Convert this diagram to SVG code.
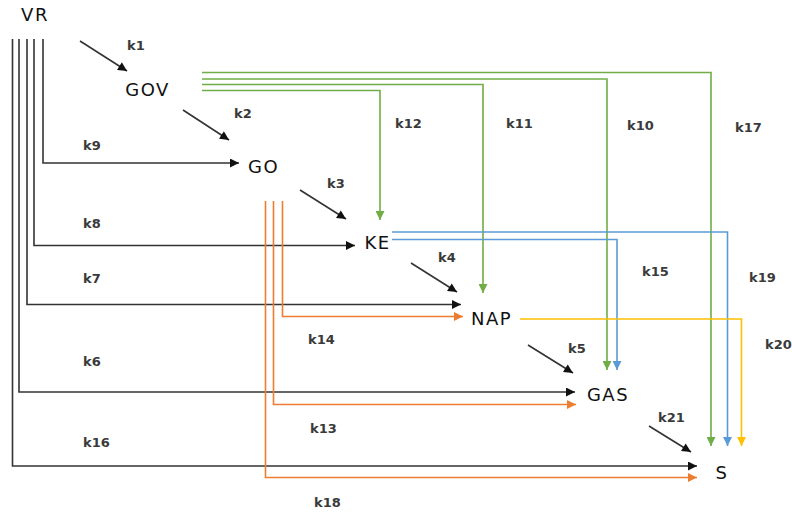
<svg xmlns="http://www.w3.org/2000/svg" width="792" height="514" viewBox="0 0 792 514">
<style>
.node{font-family:"DejaVu Sans",sans-serif;font-size:18px;fill:#111;text-anchor:middle;letter-spacing:1.5px}
.lbl{font-family:"DejaVu Sans",sans-serif;font-size:13px;font-weight:bold;fill:#3a3a3a}
.c{fill:none;stroke-width:1.6}
.k{stroke:#333}
.g{stroke:#70ad47}
.b{stroke:#5b9bd5}
.o{stroke:#ed7d31}
.y{stroke:#ffc000}
</style>
<defs>
<marker id="ak" viewBox="0 0 10 10" refX="10" refY="5" markerWidth="10" markerHeight="9" markerUnits="userSpaceOnUse" orient="auto"><path d="M0,0 L10,5 L0,10 z" fill="#111"/></marker>
<marker id="ag" viewBox="0 0 10 10" refX="10" refY="5" markerWidth="10" markerHeight="9" markerUnits="userSpaceOnUse" orient="auto"><path d="M0,0 L10,5 L0,10 z" fill="#70ad47"/></marker>
<marker id="ab" viewBox="0 0 10 10" refX="10" refY="5" markerWidth="10" markerHeight="9" markerUnits="userSpaceOnUse" orient="auto"><path d="M0,0 L10,5 L0,10 z" fill="#5b9bd5"/></marker>
<marker id="ao" viewBox="0 0 10 10" refX="10" refY="5" markerWidth="10" markerHeight="9" markerUnits="userSpaceOnUse" orient="auto"><path d="M0,0 L10,5 L0,10 z" fill="#ed7d31"/></marker>
<marker id="ay" viewBox="0 0 10 10" refX="10" refY="5" markerWidth="10" markerHeight="9" markerUnits="userSpaceOnUse" orient="auto"><path d="M0,0 L10,5 L0,10 z" fill="#ffc000"/></marker>
</defs>
<g id="connectors">
<path class="c k" d="M43,39 V163 H239" marker-end="url(#ak)"/>
<path class="c k" d="M34,39 V245.5 H355" marker-end="url(#ak)"/>
<path class="c k" d="M27,39 V304.5 H461" marker-end="url(#ak)"/>
<path class="c k" d="M19,39 V392 H575" marker-end="url(#ak)"/>
<path class="c k" d="M12.5,39 V466 H697" marker-end="url(#ak)"/>
<path class="c g" d="M202,72.5 H711 V446" marker-end="url(#ag)"/>
<path class="c g" d="M202,79 H607 V370" marker-end="url(#ag)"/>
<path class="c g" d="M202,84.5 H483 V293" marker-end="url(#ag)"/>
<path class="c g" d="M202,90.5 H380 V220" marker-end="url(#ag)"/>
<path class="c b" d="M392,232 H727.5 V446" marker-end="url(#ab)"/>
<path class="c b" d="M392,239.5 H617 V370" marker-end="url(#ab)"/>
<path class="c y" d="M520,319 H741.5 V446" marker-end="url(#ay)"/>
<path class="c o" d="M282.5,201 V316.5 H463" marker-end="url(#ao)"/>
<path class="c o" d="M273.5,201 V404.5 H576" marker-end="url(#ao)"/>
<path class="c o" d="M265.5,201 V477.5 H697" marker-end="url(#ao)"/>
<path class="c k" d="M80,41 L127,71" marker-end="url(#ak)"/>
<path class="c k" d="M183,110 L229,140" marker-end="url(#ak)"/>
<path class="c k" d="M300,190 L346,219" marker-end="url(#ak)"/>
<path class="c k" d="M411,263 L457,292" marker-end="url(#ak)"/>
<path class="c k" d="M528,345 L573,373" marker-end="url(#ak)"/>
<path class="c k" d="M649,426 L691,452" marker-end="url(#ak)"/>
</g>
<g id="labels">
<text class="lbl" x="127" y="50">k1</text>
<text class="lbl" x="234" y="118">k2</text>
<text class="lbl" x="83" y="150">k9</text>
<text class="lbl" x="327" y="188">k3</text>
<text class="lbl" x="395" y="128">k12</text>
<text class="lbl" x="506" y="128">k11</text>
<text class="lbl" x="627" y="130">k10</text>
<text class="lbl" x="735" y="132">k17</text>
<text class="lbl" x="83" y="228">k8</text>
<text class="lbl" x="438" y="262">k4</text>
<text class="lbl" x="642" y="276">k15</text>
<text class="lbl" x="749" y="282">k19</text>
<text class="lbl" x="83" y="283">k7</text>
<text class="lbl" x="308" y="344">k14</text>
<text class="lbl" x="765" y="349">k20</text>
<text class="lbl" x="568" y="353">k5</text>
<text class="lbl" x="83" y="366">k6</text>
<text class="lbl" x="658" y="422">k21</text>
<text class="lbl" x="310" y="433">k13</text>
<text class="lbl" x="83" y="447">k16</text>
<text class="lbl" x="314" y="507">k18</text>
</g>
<g id="VR"><text class="node" x="35" y="20.5">VR</text></g>
<g id="GOV"><text class="node" x="147.5" y="95.5">GOV</text></g>
<g id="GO"><text class="node" x="263.5" y="172.5">GO</text></g>
<g id="KE"><text class="node" x="377.5" y="248.5">KE</text></g>
<g id="NAP"><text class="node" x="491.5" y="324.5">NAP</text></g>
<g id="GAS"><text class="node" x="608" y="400.5">GAS</text></g>
<g id="S"><text class="node" x="722" y="478.5">S</text></g>
</svg>
